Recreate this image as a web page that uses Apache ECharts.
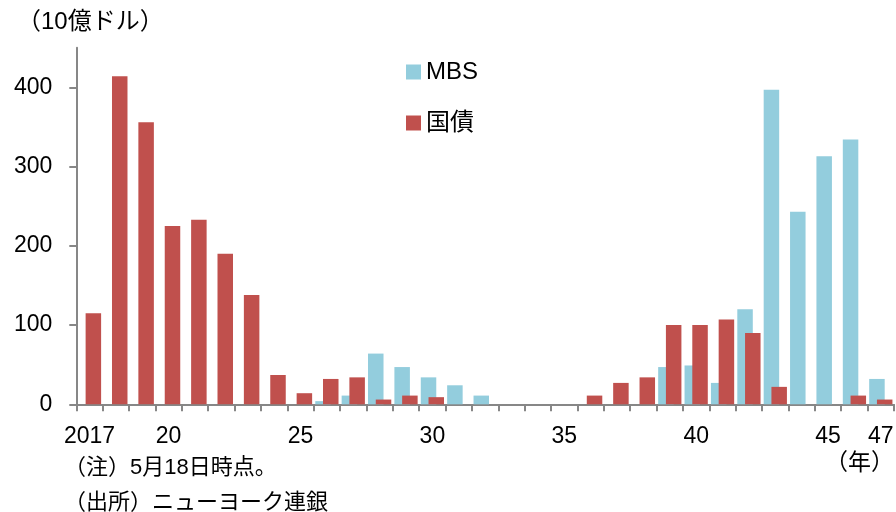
<!DOCTYPE html>
<html>
<head>
<meta charset="utf-8">
<script src="https://cdn.jsdelivr.net/npm/echarts@6/dist/echarts.min.js"></script>
<style>
  html, body { margin: 0; padding: 0; background: #ffffff; }
  #chart { width: 896px; height: 512px; }
</style>
</head>
<body>
<div id="chart"></div>
<script>
// Years of maturity, 2017–2047
const years = ['2017','2018','2019','2020','2021','2022','2023','2024','2025','2026',
               '2027','2028','2029','2030','2031','2032','2033','2034','2035','2036',
               '2037','2038','2039','2040','2041','2042','2043','2044','2045','2046','2047'];

// Year labels shown under the axis (others left blank)
const yearLabels = {'2017': '2017', '2020': '20', '2025': '25', '2030': '30',
                    '2035': '35', '2040': '40', '2045': '45', '2047': '47'};

// Holdings maturing each year (billions of dollars)
const mbs = [0, 0, 0, 0, 0, 0, 0, 0, 0, 4,
             11, 64, 47, 34, 24, 11, 0, 0, 0, 0,
             0, 0, 47, 49, 27, 120, 397, 243, 313, 334, 32];
const treasuries = [115, 414, 356, 225, 233, 190, 138, 37, 14, 32,
                    34, 6, 11, 9, 0, 0, 0, 0, 0, 11,
                    27, 34, 100, 100, 107, 90, 22, 0, 0, 11, 6];

// Value-axis ticks
const yTicks = [0, 100, 200, 300, 400];

const FONT = "'Liberation Sans', Arial, 'Noto Sans CJK JP', sans-serif";
const AXIS_GREY = '#878787';

const chart = echarts.init(document.getElementById('chart'), null, { renderer: 'canvas' });

chart.setOption({
  animation: false,
  backgroundColor: '#ffffff',
  textStyle: { fontFamily: FONT, color: '#000000' },
  grid: {
    left: 76.3, right: 2, top: 47.7, bottom: 107.7,
    containLabel: false, outerBoundsMode: 'none'
  },
  legend: {
    orient: 'vertical',
    left: 401,
    top: 54,
    itemWidth: 15,
    itemHeight: 15,
    itemGap: 25,
    icon: 'rect',
    textStyle: { fontFamily: FONT, fontSize: 24, color: '#000000', lineHeight: 26 },
    data: ['MBS', '国債']
  },
  xAxis: {
    type: 'category',
    data: years,
    boundaryGap: true,
    axisLine: { show: true, lineStyle: { color: AXIS_GREY, width: 2 } },
    axisTick: { show: true, interval: 0, length: 7, lineStyle: { color: AXIS_GREY, width: 2 } },
    axisLabel: {
      interval: 0,
      margin: 21,
      fontFamily: FONT,
      fontSize: 23,
      color: '#000000',
      formatter: function (v) { return yearLabels[v] || ''; }
    },
    splitLine: { show: false }
  },
  yAxis: {
    type: 'value',
    min: 0,
    max: 450,
    interval: 100,
    axisLine: { show: true, lineStyle: { color: AXIS_GREY, width: 2 } },
    axisTick: { show: true, length: 7, customValues: yTicks, lineStyle: { color: AXIS_GREY, width: 2 } },
    axisLabel: {
      customValues: yTicks,
      margin: 24,
      fontFamily: FONT,
      fontSize: 23,
      color: '#000000'
    },
    splitLine: { show: false }
  },
  series: [
    {
      name: 'MBS',
      type: 'bar',
      data: mbs,
      barWidth: 15.5,
      barGap: '-50%',
      itemStyle: { color: '#93CDDD' }
    },
    {
      name: '国債',
      type: 'bar',
      data: treasuries,
      barWidth: 15.5,
      barGap: '-50%',
      itemStyle: { color: '#C0504D' }
    }
  ],
  graphic: [
    {
      type: 'text', left: 17, top: 10,
      style: { text: '（10億ドル）', fontFamily: FONT, fontSize: 24, fill: '#000000' }
    },
    {
      type: 'text', left: 825, top: 452,
      style: { text: '（年）', fontFamily: FONT, fontSize: 23, fill: '#000000' }
    },
    {
      type: 'text', left: 64, top: 457,
      style: { text: '（注）5月18日時点。', fontFamily: FONT, fontSize: 22, fill: '#000000' }
    },
    {
      type: 'text', left: 64, top: 492,
      style: { text: '（出所）ニューヨーク連銀', fontFamily: FONT, fontSize: 22, fill: '#000000' }
    }
  ]
});
</script>
</body>
</html>
